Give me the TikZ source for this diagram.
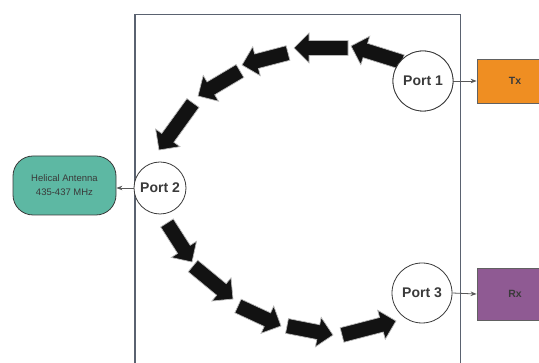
\documentclass[tikz,border=0pt]{standalone}
\usepackage{fontspec}
\setmainfont{Liberation Sans}
\usetikzlibrary{calc,arrows.meta}
\definecolor{txor}{HTML}{EF8E22}
\definecolor{rxpu}{HTML}{8F5A93}
\definecolor{antc}{HTML}{5DB8A3}
\definecolor{framec}{HTML}{5A6270}
\definecolor{txtc}{HTML}{3A3A3A}
\definecolor{blkc}{HTML}{121212}
\newcommand\blkarrow[2]{%
  \coordinate (nk) at ($(#2)!15pt!(#1)$);
  \filldraw[blkarr] ($(#1)!7.5pt!90:(#2)$) -- ($(nk)!7.5pt!90:(#2)$) -- ($(nk)!15pt!90:(#2)$) -- (#2)
    -- ($(nk)!15pt!-90:(#2)$) -- ($(nk)!7.5pt!-90:(#2)$) -- ($(#1)!7.5pt!-90:(#2)$) -- cycle;}
\begin{document}
\begin{tikzpicture}[x=1pt,y=-1pt,
  port/.style={circle,draw=txtc,line width=0.8pt,fill=white,minimum size=60pt,inner sep=0pt,
    font=\fontsize{14}{16}\selectfont\bfseries,text=txtc},
  devbox/.style={draw=txtc!80,line width=0.8pt,minimum width=76pt,inner sep=0pt,
    font=\fontsize{10.5}{12}\selectfont\bfseries,text=txtc},
  conn/.style={draw=txtc!85,line width=0.8pt,-{Stealth[length=6pt,width=4.5pt]}},
  blkarr/.style={fill=blkc,draw=gray!55,line width=0.7pt,line join=miter},
  frame/.style={draw=framec,line width=1.4pt}]
\useasboundingbox (0,0) rectangle (539,363);
% frame
\draw[frame] (135,364) -- (135,14.3) -- (460.7,14.3) -- (460.7,364);
% ports
\node[port] (p1) at (423,81) {Port 1};
\node[port,minimum size=52pt] (p2) at (160,188) {Port 2};
\node[port] (p3) at (422,293) {Port 3};
% devices
\node[devbox,fill=txor,minimum height=44pt] (tx) at (515,81) {Tx};
\node[devbox,fill=rxpu,minimum height=52pt] (rx) at (515,294) {Rx};
\node[draw=txtc,line width=0.8pt,fill=antc,rounded corners=20pt,minimum width=103pt,minimum height=59pt,
  inner sep=0pt,align=center,font=\fontsize{9.5}{14}\selectfont,text=txtc] (ant) at (64.5,185.5)
  {Helical Antenna\\435-437 MHz};
% connectors
\draw[conn] (p1.east) -- (tx.west);
\draw[conn] (p3.east) -- (rx.west);
\draw[conn] (p2.west) -- (p2.west -| ant.east);
% block arrows
\coordinate (a1) at (402,62);  \coordinate (b1) at (351,46);
\coordinate (a2) at (348,48);  \coordinate (b2) at (294,48);
\coordinate (a3) at (288,53);  \coordinate (b3) at (242,65);
\coordinate (a4) at (240,71);  \coordinate (b4) at (198,96);
\coordinate (a5) at (193,103); \coordinate (b5) at (159,150);
\coordinate (a6) at (167,223); \coordinate (b6) at (192,262);
\coordinate (a7) at (193,266); \coordinate (b7) at (233,299);
\coordinate (a8) at (238,306); \coordinate (b8) at (281,326);
\coordinate (a9) at (287,326); \coordinate (b9) at (333,335);
\coordinate (a10) at (342,335); \coordinate (b10) at (396,321);
\blkarrow{a1}{b1}
\blkarrow{a2}{b2}
\blkarrow{a3}{b3}
\blkarrow{a4}{b4}
\blkarrow{a5}{b5}
\blkarrow{a6}{b6}
\blkarrow{a7}{b7}
\blkarrow{a8}{b8}
\blkarrow{a9}{b9}
\blkarrow{a10}{b10}
% redraw port 1 circle on top of arrow 1 tail
\node[port] at (p1) {Port 1};
\end{tikzpicture}
\end{document}
